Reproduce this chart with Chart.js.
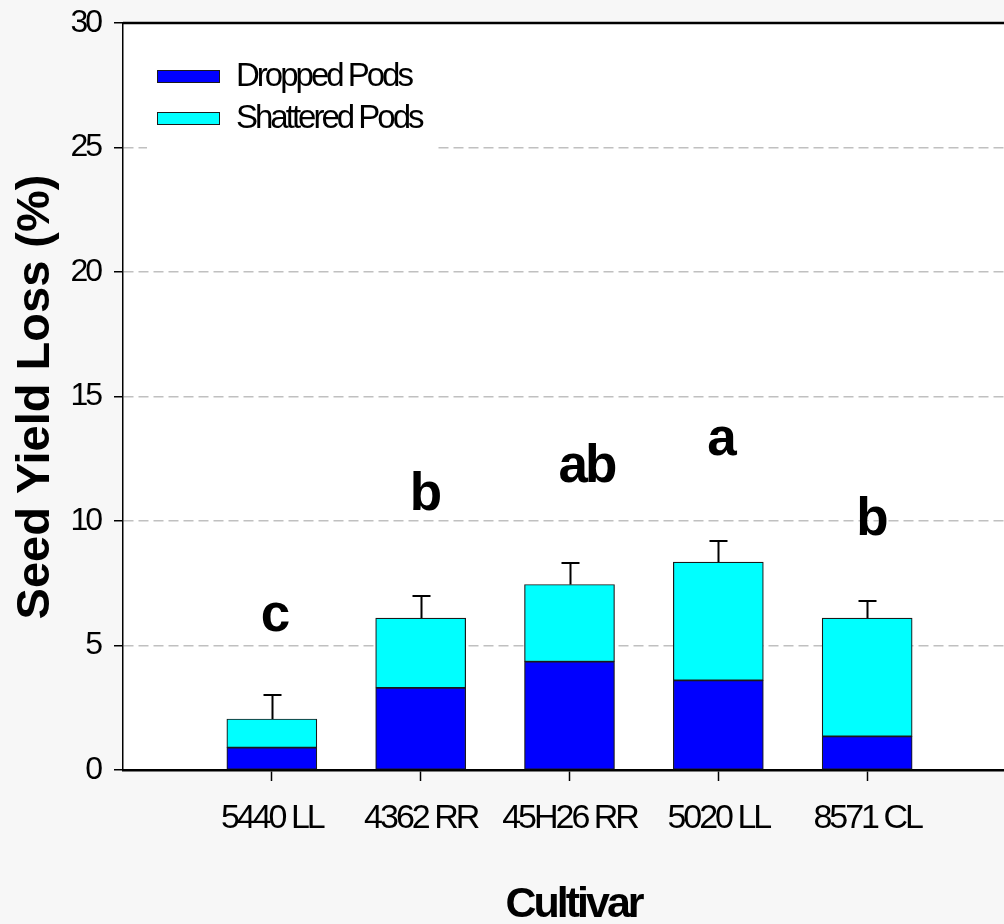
<!DOCTYPE html>
<html>
<head>
<meta charset="utf-8">
<script src="https://cdn.jsdelivr.net/npm/chart.js@4.4.1/dist/chart.umd.min.js"></script>
<style>
  html, body { margin: 0; padding: 0; overflow: hidden; background: #f7f7f7; }
  #wrap { width: 1016px; height: 924px; }
</style>
</head>
<body>
<div id="wrap"><canvas id="chart" width="1016" height="924"></canvas></div>
<script>
// Seed yield loss by cultivar, split into dropped and shattered pods (%)
const cultivars     = ['5440 LL', '4362 RR', '45H26 RR', '5020 LL', '8571 CL'];
const droppedPods   = [0.9, 3.3, 4.35, 3.6, 1.35];
const shatteredPods = [1.15, 2.8, 3.1, 4.75, 4.75];
const stdError      = [0.95, 0.9, 0.85, 0.85, 0.7];
const sigLetters    = ['c', 'b', 'ab', 'a', 'b'];
const sigLetterAt   = [5.6, 10.45, 11.55, 12.65, 9.45];
const yTickValues   = [0, 5, 10, 15, 20, 25, 30];

const FONT = "'Liberation Sans', Arial, sans-serif";
const TIGHT = '-3px';

// empty slot at each end keeps the bars centred one step in from the axes
const padEnds = arr => [null, ...arr, null];
const lastIdx = cultivars.length + 1;

const backgroundPlugin = {
  id: 'panelBackground',
  beforeDraw(chart) {
    const { ctx, chartArea: a } = chart;
    ctx.letterSpacing = TIGHT;
    ctx.save();
    ctx.fillStyle = '#f7f7f7';
    ctx.fillRect(0, 0, chart.width, chart.height);
    ctx.fillStyle = '#ffffff';
    ctx.fillRect(a.left, a.top, a.right - a.left, a.bottom - a.top);
    ctx.restore();
  }
};

const legendPlugin = {
  id: 'insetLegend',
  beforeDatasetsDraw(chart) {
    const { ctx, chartArea: a } = chart;
    ctx.save();
    ctx.fillStyle = '#ffffff';
    ctx.fillRect(a.left + 24, a.top + 18, 290, 112);
    ctx.font = `33px ${FONT}`;
    ctx.letterSpacing = TIGHT;
    ctx.textBaseline = 'middle';
    ctx.textAlign = 'left';
    chart.data.datasets.forEach((ds, i) => {
      const y = a.top + 53 + i * 42;
      ctx.fillStyle = ds.backgroundColor;
      ctx.fillRect(a.left + 34, y - 6, 62, 12);
      ctx.strokeStyle = '#1a1a1a';
      ctx.lineWidth = 1;
      ctx.strokeRect(a.left + 34.5, y - 5.5, 62, 12);
      ctx.fillStyle = '#000';
      ctx.fillText(ds.label, a.left + 113, y + 1);
    });
    ctx.restore();
  }
};

const overlayPlugin = {
  id: 'errorBarsAndLabels',
  afterDatasetsDraw(chart) {
    const { ctx, chartArea: a, scales: { x, y } } = chart;
    ctx.save();

    // frame line along the top of the plot
    ctx.strokeStyle = '#000';
    ctx.lineWidth = 2.5;
    ctx.beginPath();
    ctx.moveTo(a.left, a.top);
    ctx.lineTo(a.right, a.top);
    ctx.stroke();

    // error bars above each stacked column
    ctx.lineWidth = 2;
    cultivars.forEach((_, i) => {
      const cx = Math.round(x.getPixelForValue(i + 1)) + 0.5;
      const total = droppedPods[i] + shatteredPods[i];
      const yTop = y.getPixelForValue(total);
      const yErr = Math.round(y.getPixelForValue(total + stdError[i]));
      ctx.beginPath();
      ctx.moveTo(cx, yTop);
      ctx.lineTo(cx, yErr);
      ctx.moveTo(cx - 9, yErr);
      ctx.lineTo(cx + 9, yErr);
      ctx.stroke();
    });

    // significance letters
    ctx.fillStyle = '#000';
    ctx.font = `bold 53px ${FONT}`;
    ctx.letterSpacing = TIGHT;
    ctx.textAlign = 'left';
    ctx.textBaseline = 'alphabetic';
    sigLetters.forEach((t, i) => {
      ctx.fillText(t, x.getPixelForValue(i + 1) - 11, y.getPixelForValue(sigLetterAt[i]));
    });

    // axis titles
    ctx.font = `bold 43px ${FONT}`;
    ctx.textAlign = 'center';
    ctx.fillText('Cultivar', (a.left + a.right) / 2 + 4, 917);

    ctx.translate(49, 397);
    ctx.rotate(-Math.PI / 2);
    ctx.font = `bold 47px ${FONT}`;
    ctx.letterSpacing = '0px';
    ctx.fillText('Seed Yield Loss (%)', 0, 0);
    ctx.restore();
  }
};

const barStyle = {
  borderColor: '#1a1a1a',
  borderWidth: 1.2,
  borderSkipped: false,
  barThickness: 90,
  stack: 'loss'
};

new Chart(document.getElementById('chart'), {
  type: 'bar',
  data: {
    labels: ['', ...cultivars, ''],
    datasets: [
      { label: 'Dropped Pods', data: padEnds(droppedPods), backgroundColor: '#0000ff', ...barStyle },
      { label: 'Shattered Pods', data: padEnds(shatteredPods), backgroundColor: '#00ffff', ...barStyle }
    ]
  },
  options: {
    responsive: false,
    animation: false,
    devicePixelRatio: 1,
    layout: { padding: { top: 23, right: 0, left: 0, bottom: 0 } },
    plugins: { legend: { display: false }, tooltip: { enabled: false } },
    scales: {
      x: {
        stacked: true,
        offset: false,
        grid: {
          offset: false,
          drawOnChartArea: false,
          tickLength: 11,
          tickWidth: 1.5,
          tickColor: c => (c.index === 0 || c.index === lastIdx) ? 'rgba(0,0,0,0)' : '#000'
        },
        border: { color: '#000', width: 2.5 },
        ticks: {
          font: { family: FONT, size: 34 },
          color: '#000',
          padding: 17,
          maxRotation: 0,
          autoSkip: false
        },
        afterFit: s => { s.height = 154; s.paddingLeft = 0; s.paddingRight = 0; }
      },
      y: {
        stacked: true,
        min: 0,
        max: 30,
        afterBuildTicks: s => { s.ticks = yTickValues.map(v => ({ value: v })); },
        grid: {
          color: c => (c.tick && (c.tick.value === 0 || c.tick.value === 30)) ? 'rgba(0,0,0,0)' : '#c0c0c0',
          lineWidth: 1.5,
          tickColor: '#000',
          tickLength: 9,
          tickWidth: 1.5
        },
        border: { color: '#000', width: 1.5, dash: [10, 5] },
        ticks: {
          font: { family: FONT, size: 32 },
          color: '#000',
          padding: 14
        },
        afterFit: s => { s.width = 123; s.paddingTop = 0; s.paddingBottom = 0; }
      }
    }
  },
  plugins: [backgroundPlugin, legendPlugin, overlayPlugin]
});
</script>
</body>
</html>
